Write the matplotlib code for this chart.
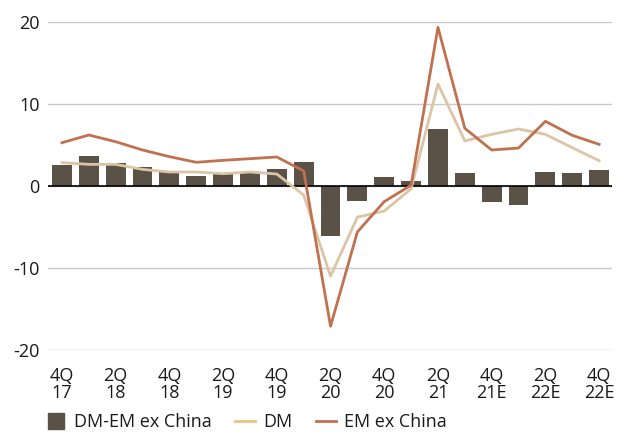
import matplotlib
matplotlib.use("Agg")
import matplotlib.pyplot as plt
from matplotlib.lines import Line2D

plt.rcParams['font.family'] = ['Open Sans', 'DejaVu Sans']

quarters = ["4Q17", "1Q18", "2Q18", "3Q18", "4Q18", "1Q19", "2Q19", "3Q19", "4Q19",
            "1Q20", "2Q20", "3Q20", "4Q20", "1Q21", "2Q21", "3Q21", "4Q21E",
            "1Q22E", "2Q22E", "3Q22E", "4Q22E"]
tick_labels = ["4Q\n17", "2Q\n18", "4Q\n18", "2Q\n19", "4Q\n19", "2Q\n20",
               "4Q\n20", "2Q\n21", "4Q\n21E", "2Q\n22E", "4Q\n22E"]
dm_em_spread = [2.56, 3.66, 2.76, 2.32, 1.71, 1.22, 1.63, 1.63, 2.07, 2.93,
                -6.15, -1.8, 1.08, 0.58, 6.95, 1.59, -1.95, -2.28, 1.71, 1.59, 1.95]
dm = [2.85, 2.64, 2.64, 2.03, 1.71, 1.71, 1.5, 1.71, 1.46, -1.1,
      -11.0, -3.8, -3.05, -0.35, 12.44, 5.49, 6.3, 6.95, 6.3, 4.67, 3.09]
em_ex_china = [5.28, 6.22, 5.4, 4.39, 3.58, 2.89, 3.13, 3.33, 3.54, 1.83,
               -17.1, -5.6, -1.9, 0.1, 19.35, 7.03, 4.39, 4.63, 7.89, 6.18, 5.08]

bar_color = "#5b5247"
dm_color = "#dcc5a7"
dm_legend_color = "#e8c47e"
em_color = "#c0714f"
text_color = "#1a1a1a"

fig = plt.figure(figsize=(6.17, 4.32), dpi=100)
ax = fig.add_axes([48 / 617, 82 / 432, 564 / 617, 328 / 432])

x = list(range(len(quarters)))
ax.bar(x, dm_em_spread, width=0.74, color=bar_color, zorder=2)
ax.plot(x, dm, color=dm_color, lw=2.0, zorder=3)
ax.plot(x, em_ex_china, color=em_color, lw=2.0, zorder=4)
ax.axhline(0, color="black", lw=1.2, zorder=2.5)

ax.set_xlim(-0.52, 20.48)
ax.set_ylim(-20, 20)
ax.set_yticks([-20, -10, 0, 10, 20])
ax.set_yticklabels(["-20", "-10", "0", "10", "20"])
ax.set_xticks(x[::2])
ax.set_xticklabels(tick_labels, linespacing=0.95)
ax.yaxis.grid(True, color="#c8c8c8", lw=1.0, zorder=0)
ax.set_axisbelow(True)
for s in ax.spines.values():
    s.set_visible(False)
ax.tick_params(axis="both", length=0, labelsize=13, colors=text_color)
ax.tick_params(axis="y", pad=6)
ax.tick_params(axis="x", pad=12)

handles = [Line2D([], [], color=bar_color, marker="s", markersize=11, lw=0),
           Line2D([], [], color=dm_legend_color, lw=2.0),
           Line2D([], [], color=em_color, lw=2.0)]
labels = ["DM-EM ex China", "DM", "EM ex China"]
fig.legend(handles, labels, loc="lower left", bbox_to_anchor=(30 / 617, -0.035),
           ncol=3, frameon=False, fontsize=13, handlelength=1.1,
           handletextpad=0.45, columnspacing=1.3, labelcolor=text_color)

fig.savefig("out.png", dpi=100)
